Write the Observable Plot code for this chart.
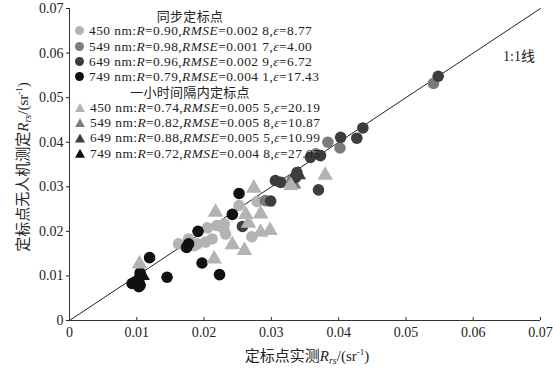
<!DOCTYPE html>
<html><head><meta charset="utf-8">
<script src="https://cdn.jsdelivr.net/npm/d3@7"></script>
<script src="https://cdn.jsdelivr.net/npm/@observablehq/plot@0.6"></script>
<style>
body{margin:0;background:#fff;}
#wrap{position:relative;width:553px;height:369px;font-family:"Liberation Serif","Times New Roman",serif;color:#222;}
.cjk{font-family:"Noto Sans CJK SC",sans-serif;}
#legend{position:absolute;left:74px;top:8px;width:232px;font-size:13.4px;letter-spacing:0.45px;}
#legend .row{height:15.3px;line-height:15.3px;white-space:nowrap;display:flex;align-items:center;}
#legend .hdr{justify-content:center;font-size:13px;letter-spacing:0.3px;}
#legend .sym{display:inline-block;width:9px;height:9px;margin:0 5px 0 1px;flex:none;}
#legend .circ{border-radius:50%;}
#legend .tri{width:10px;height:9px;clip-path:polygon(50% 0,100% 100%,0 100%);}
.lab{position:absolute;white-space:nowrap;font-size:15px;}
sub{font-size:10px;vertical-align:-3px;}
sup{font-size:9px;vertical-align:6px;}
</style></head><body><div id="wrap"></div>
<script>
// ---- data ----
const xTicks = [0, 0.01, 0.02, 0.03, 0.04, 0.05, 0.06, 0.07];
const yTicks = [0, 0.01, 0.02, 0.03, 0.04, 0.05, 0.06, 0.07];
const bands = ["450", "549", "649", "749"];
const bandColors = ["#b3b3b3", "#7c7c7c", "#3d3d3d", "#111111"];

// synchronous calibration points (circles)
const sync450 = [[0.0162,0.0172],[0.0177,0.0183],[0.0185,0.0168],[0.0190,0.0172],[0.0202,0.0176],[0.0212,0.0183],[0.0205,0.0208],[0.0219,0.0213],[0.0230,0.0217],[0.0232,0.0194],[0.0229,0.0206],[0.0271,0.0188],[0.0252,0.0258],[0.0279,0.0267]];
const sync549 = [[0.0541,0.0532],[0.0402,0.0387],[0.0384,0.0400],[0.0366,0.0374],[0.0331,0.0314],[0.0291,0.0269]];
const sync649 = [[0.0548,0.0548],[0.0436,0.0432],[0.0427,0.0409],[0.0403,0.0411],[0.0373,0.0370],[0.0358,0.0366],[0.0370,0.0293],[0.0338,0.0332],[0.0336,0.0321],[0.0306,0.0314],[0.0314,0.0310],[0.0299,0.0268],[0.0257,0.0211]];
const sync749 = [[0.0093,0.0083],[0.0097,0.0086],[0.0103,0.0076],[0.0105,0.0079],[0.0104,0.0096],[0.0105,0.0107],[0.0119,0.0141],[0.0145,0.0097],[0.0197,0.0129],[0.0223,0.0103],[0.0174,0.0164],[0.0177,0.0172],[0.0191,0.0200],[0.0242,0.0238],[0.0252,0.0285]];
// calibration points within a one-hour interval (triangles)
const hour450 = [[0.0104,0.0127],[0.0215,0.0138],[0.0242,0.0170],[0.0260,0.0157],[0.0284,0.0198],[0.0298,0.0202],[0.0284,0.0239],[0.0262,0.0238],[0.0266,0.0218],[0.0217,0.0243],[0.0274,0.0297],[0.0380,0.0326],[0.0329,0.0303]];
const hour549 = [[0.0333,0.0306]];
const hour649 = [[0.0340,0.0327]];
const hour749 = [[0.0108,0.0101]];

// legend statistics
const syncR = ["0.90", "0.98", "0.96", "0.79"];
const syncRMSE = ["0.002 8", "0.001 7", "0.002 9", "0.004 1"];
const syncEps = ["8.77", "4.00", "6.72", "17.43"];
const hourR = ["0.74", "0.82", "0.88", "0.72"];
const hourRMSE = ["0.005 5", "0.005 8", "0.005 5", "0.004 8"];
const hourEps = ["20.19", "10.87", "10.99", "27.05"];
const identity = [0, 0.07];

// ---- chart ----
const syncSets = [sync450, sync549, sync649, sync749];
const hourSets = [hour450, hour549, hour649, hour749];
const fmt = d => d === 0 ? "0" : d.toFixed(2);
const dotR = 5.8;

const marks = [
  Plot.axisX({ticks: xTicks, tickSize: 0, tickPadding: 7, tickFormat: fmt, label: null}),
  Plot.axisY({ticks: yTicks, tickSize: 3, tickPadding: 3, tickFormat: fmt, label: null}),
  Plot.tickX(xTicks, {x: d => d, insetTop: 309, stroke: "#333"}),
  Plot.ruleY([0], {stroke: "#333"}),
  Plot.ruleX([0], {stroke: "#333"}),
  Plot.line(identity, {x: d => d, y: d => d, stroke: "#222", strokeWidth: 1})
];
// darker triangles underneath
for (let i = 1; i < 4; i++) marks.push(Plot.dot(hourSets[i], {x: d => d[0], y: d => d[1], symbol: "triangle", r: dotR, fill: bandColors[i]}));
for (let i = 0; i < 4; i++) marks.push(Plot.dot(syncSets[i], {x: d => d[0], y: d => d[1], symbol: "circle", r: dotR, fill: bandColors[i]}));
marks.push(Plot.dot(hourSets[0], {x: d => d[0], y: d => d[1], symbol: "triangle", r: dotR, fill: bandColors[0]}));

const chart = Plot.plot({
  width: 553, height: 369,
  marginLeft: 69, marginRight: 13, marginTop: 8, marginBottom: 49,
  style: {fontFamily: "'Liberation Serif','Times New Roman',serif", fontSize: "14px", color: "#222", background: "white"},
  x: {domain: [0, 0.07]},
  y: {domain: [0, 0.07]},
  marks
});
const wrap = document.getElementById("wrap");
wrap.appendChild(chart);

// ---- legend ----
const lg = document.createElement("div");
lg.id = "legend";
function row(shape, i, R, RMSE, eps) {
  return `<div class="row"><span class="sym ${shape}" style="background:${bandColors[i]}"></span>${bands[i]} nm:<i>R</i>=${R},<i>RMSE</i>=${RMSE},<i>ε</i>=${eps}</div>`;
}
let html = `<div class="row hdr cjk">同步定标点</div>`;
for (let i = 0; i < 4; i++) html += row("circ", i, syncR[i], syncRMSE[i], syncEps[i]);
html += `<div class="row hdr cjk">一小时间隔内定标点</div>`;
for (let i = 0; i < 4; i++) html += row("tri", i, hourR[i], hourRMSE[i], hourEps[i]);
lg.innerHTML = html;
wrap.appendChild(lg);

// ---- axis labels ----
const yl = document.createElement("div");
yl.className = "lab";
yl.style.cssText = "left:22px;top:167px;transform:translate(-50%,-50%) rotate(-90deg);";
yl.innerHTML = `<span class="cjk">定标点无人机测定</span><i>R</i><sub><i>rs</i></sub>/(sr<sup>-1</sup>)`;
wrap.appendChild(yl);

const xl = document.createElement("div");
xl.className = "lab";
xl.style.cssText = "left:307px;top:355px;transform:translate(-50%,-50%);";
xl.innerHTML = `<span class="cjk">定标点实测</span><i>R</i><sub><i>rs</i></sub>/(sr<sup>-1</sup>)`;
wrap.appendChild(xl);

const ll = document.createElement("div");
ll.className = "lab";
ll.style.cssText = "left:503px;top:45px;font-size:14px;";
ll.innerHTML = `1:1<span class="cjk">线</span>`;
wrap.appendChild(ll);
</script>
</body></html>
